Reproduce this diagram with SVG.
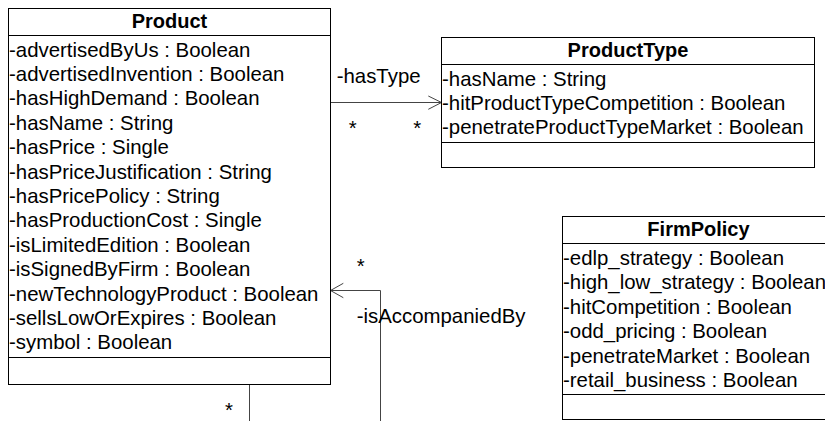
<svg xmlns="http://www.w3.org/2000/svg" width="825" height="421" viewBox="0 0 825 421">
<style>
.box{fill:#fff;stroke:#000;stroke-width:1}
.sep{stroke:#000;stroke-width:1}
.t{font-family:"Liberation Sans",Arial,sans-serif;font-size:20.4px;fill:#000}
.h{font-family:"Liberation Sans",Arial,sans-serif;font-size:20px;font-weight:bold;fill:#000;text-anchor:middle}
.c{fill:none;stroke:#444;stroke-width:1}
.m{font-family:"Liberation Sans",Arial,sans-serif;font-size:20.4px;fill:#000;text-anchor:middle}
</style>
<rect width="825" height="421" fill="#fff"/>
<g id="connectors">
<polyline class="c" points="330.5,102.5 441.5,102.5"/>
<polyline class="c" points="428.3,96 441.5,102.5 428.3,109.3"/>
<text class="t" x="336.7" y="83.3">-hasType</text>
<text class="m" x="352.7" y="134.5">*</text>
<text class="m" x="417.3" y="134.5">*</text>
<polyline class="c" points="380.5,421 380.5,290.5 330.5,290.5"/>
<polyline class="c" points="343.3,283.3 330.5,290.5 343.3,297.7"/>
<text class="m" x="360.7" y="272.5">*</text>
<text class="t" x="356.7" y="323.3">-isAccompaniedBy</text>
<polyline class="c" points="249.5,384.5 249.5,421"/>
<text class="m" x="229" y="417">*</text>
</g>
<g id="Product">
<rect class="box" x="8.5" y="8.5" width="322" height="376"/>
<line class="sep" x1="8.5" y1="35.5" x2="330.5" y2="35.5"/>
<line class="sep" x1="8.5" y1="357.5" x2="330.5" y2="357.5"/>
<text class="h" x="169.5" y="28">Product</text>
<text class="t" x="9" y="56.5">-advertisedByUs : Boolean</text>
<text class="t" x="9" y="80.9">-advertisedInvention : Boolean</text>
<text class="t" x="9" y="105.3">-hasHighDemand : Boolean</text>
<text class="t" x="9" y="129.7">-hasName : String</text>
<text class="t" x="9" y="154.1">-hasPrice : Single</text>
<text class="t" x="9" y="178.5">-hasPriceJustification : String</text>
<text class="t" x="9" y="202.9">-hasPricePolicy : String</text>
<text class="t" x="9" y="227.3">-hasProductionCost : Single</text>
<text class="t" x="9" y="251.7">-isLimitedEdition : Boolean</text>
<text class="t" x="9" y="276.1">-isSignedByFirm : Boolean</text>
<text class="t" x="9" y="300.5">-newTechnologyProduct : Boolean</text>
<text class="t" x="9" y="324.9">-sellsLowOrExpires : Boolean</text>
<text class="t" x="9" y="349.3">-symbol : Boolean</text>
</g>
<g id="ProductType">
<rect class="box" x="441.5" y="37.5" width="373" height="130"/>
<line class="sep" x1="441.5" y1="64.5" x2="814.5" y2="64.5"/>
<line class="sep" x1="441.5" y1="142.5" x2="814.5" y2="142.5"/>
<text class="h" x="628" y="57">ProductType</text>
<text class="t" x="442" y="85.5">-hasName : String</text>
<text class="t" x="442" y="109.9">-hitProductTypeCompetition : Boolean</text>
<text class="t" x="442" y="134.3">-penetrateProductTypeMarket : Boolean</text>
</g>
<g id="FirmPolicy">
<rect class="box" x="562.5" y="216.5" width="272" height="203"/>
<line class="sep" x1="562.5" y1="243.5" x2="834.5" y2="243.5"/>
<line class="sep" x1="562.5" y1="394.5" x2="834.5" y2="394.5"/>
<text class="h" x="698.5" y="236">FirmPolicy</text>
<text class="t" x="563" y="265">-edlp_strategy : Boolean</text>
<text class="t" x="563" y="289.4">-high_low_strategy : Boolean</text>
<text class="t" x="563" y="313.8">-hitCompetition : Boolean</text>
<text class="t" x="563" y="338.2">-odd_pricing : Boolean</text>
<text class="t" x="563" y="362.6">-penetrateMarket : Boolean</text>
<text class="t" x="563" y="387">-retail_business : Boolean</text>
</g>
</svg>
